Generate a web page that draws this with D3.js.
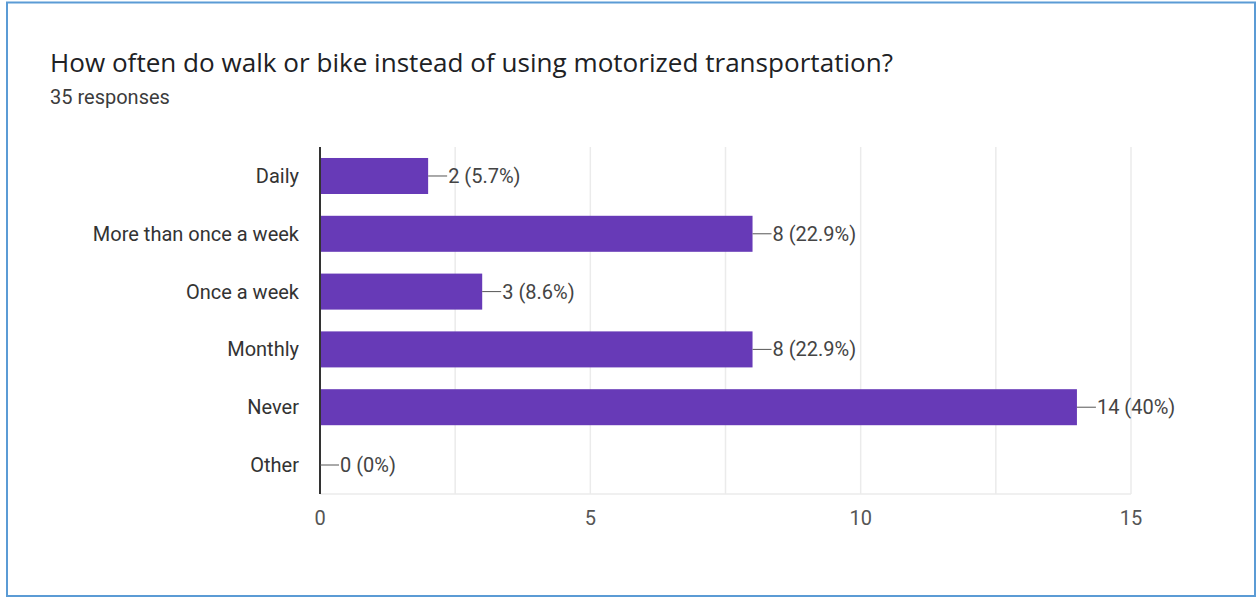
<!DOCTYPE html>
<html><head><meta charset="utf-8">
<script src="https://cdn.jsdelivr.net/npm/d3@7"></script>
<style>html,body{margin:0;padding:0;background:#fff;overflow:hidden}</style>
</head><body><svg id="c" width="1257" height="598"></svg>
<script>
const categories = ["Daily","More than once a week","Once a week","Monthly","Never","Other"];
const counts = [2,8,3,8,14,0];
const percentLabels = ["5.7%","22.9%","8.6%","22.9%","40%","0%"];
const xTicks = [0,5,10,15];
const gridTicks = [2.5,5,7.5,10,12.5,15];
const title = "How often do walk or bike instead of using motorized transportation?";
const subtitle = "35 responses";

const svg = d3.select("#c");
svg.append("rect").attr("x",7).attr("y",2.5).attr("width",1248).attr("height",593.5)
  .attr("fill","#fff").attr("stroke","#5b9bd5").attr("stroke-width",2);

svg.append("text").attr("x",50).attr("y",72).attr("font-family","'Open Sans', Roboto, sans-serif")
  .attr("font-size",25).attr("fill","#202124")
  .attr("textLength",843).attr("lengthAdjust","spacingAndGlyphs").text(title);
svg.append("text").attr("x",50).attr("y",104).attr("font-family","Roboto, Arial, sans-serif")
  .attr("font-size",20).attr("fill","#3c3c3c").text(subtitle);

const x = d3.scaleLinear().domain([0,15]).range([320,1131]);
const y = d3.scaleBand().domain(categories).range([147,494]).paddingInner(0.377).paddingOuter(0.19);

const g = svg.append("g");
g.selectAll("line.grid").data(gridTicks).join("line").attr("class","grid")
  .attr("x1",d=>x(d)).attr("x2",d=>x(d)).attr("y1",147).attr("y2",494)
  .attr("stroke","#ebebeb").attr("stroke-width",1.5);
g.append("line").attr("x1",320).attr("x2",1131).attr("y1",494).attr("y2",494)
  .attr("stroke","#ebebeb").attr("stroke-width",1.5);

g.selectAll("rect.bar").data(categories).join("rect").attr("class","bar")
  .attr("x",x(0)).attr("y",d=>y(d)).attr("width",(d,i)=>x(counts[i])-x(0)).attr("height",y.bandwidth())
  .attr("fill","#673ab7");

g.append("line").attr("x1",x(0)).attr("x2",x(0)).attr("y1",147).attr("y2",494)
  .attr("stroke","#333").attr("stroke-width",2);

const cy = d=>y(d)+y.bandwidth()/2;
g.selectAll("line.lead").data(categories).join("line").attr("class","lead")
  .attr("x1",(d,i)=>x(counts[i])).attr("x2",(d,i)=>x(counts[i])+19)
  .attr("y1",cy).attr("y2",cy).attr("stroke","#555").attr("stroke-width",1);
g.selectAll("text.val").data(categories).join("text").attr("class","val")
  .attr("x",(d,i)=>x(counts[i])+20).attr("y",cy).attr("dy","0.35em")
  .attr("font-family","Roboto, Arial, sans-serif").attr("font-size",20).attr("fill","#444")
  .text((d,i)=>counts[i]+" ("+percentLabels[i]+")");

g.selectAll("text.cat").data(categories).join("text").attr("class","cat")
  .attr("x",299).attr("y",cy).attr("dy","0.35em").attr("text-anchor","end")
  .attr("font-family","Roboto, Arial, sans-serif").attr("font-size",20).attr("fill","#333")
  .text(d=>d);

g.selectAll("text.tick").data(xTicks).join("text").attr("class","tick")
  .attr("x",d=>x(d)).attr("y",518).attr("dy","0.35em").attr("text-anchor","middle")
  .attr("font-family","Roboto, Arial, sans-serif").attr("font-size",20).attr("fill","#555")
  .text(d=>d);
</script></body></html>
